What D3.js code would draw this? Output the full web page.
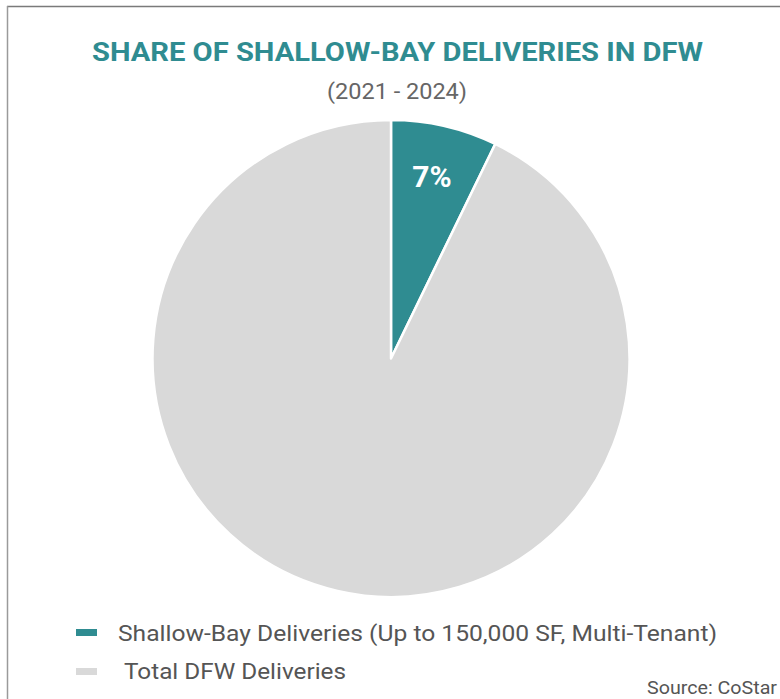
<!DOCTYPE html>
<html><head><meta charset="utf-8">
<script src="https://cdn.jsdelivr.net/npm/d3@7"></script>
<style>body{margin:0;background:#fff;}svg{display:block;font-family:Roboto,"Noto Sans",sans-serif;}</style>
</head><body>
<svg id="c" width="780" height="699"></svg>
<script>
const categories = ["Shallow-Bay Deliveries (Up to 150,000 SF, Multi-Tenant)", "Total DFW Deliveries"];
const legendLabels = ["Shallow-Bay Deliveries (Up to 150,000 SF, Multi-Tenant)", " Total DFW Deliveries"];
const values = [7.2, 92.8];
const sliceLabels = ["7%", ""];
const colors = ["#2F8C91", "#D9D9D9"];

const svg = d3.select("#c");
// frame
svg.append("line").attr("x1",7).attr("x2",780).attr("y1",6.5).attr("y2",6.5).attr("stroke","#7a7a7a").attr("stroke-width",1.5);
svg.append("line").attr("x1",7.5).attr("x2",7.5).attr("y1",6).attr("y2",699).attr("stroke","#9a9a9a").attr("stroke-width",1.5);

svg.append("text").attr("x",92).attr("y",61)
  .attr("fill","#2F8C91").attr("font-weight","bold").attr("font-size",25)
  .attr("textLength",611).attr("lengthAdjust","spacingAndGlyphs")
  .text("SHARE OF SHALLOW-BAY DELIVERIES IN DFW");
svg.append("text").attr("x",327).attr("y",99)
  .attr("fill","#666").attr("font-size",22)
  .attr("textLength",140).attr("lengthAdjust","spacingAndGlyphs").text("(2021 - 2024)");

const cx = 391, cy = 358.5, r = 238.5;
const pie = d3.pie().sort(null).value(d=>d)(values);
const arc = d3.arc().innerRadius(0).outerRadius(r);
const g = svg.append("g").attr("transform",`translate(${cx},${cy})`);
g.selectAll("path").data(pie).join("path").attr("d",arc)
  .attr("fill",(d,i)=>colors[i]).attr("stroke","#fff").attr("stroke-width",2.5).attr("stroke-linejoin","round");
const lab = d3.arc().innerRadius(r*0.785).outerRadius(r*0.785);
g.selectAll("text").data(pie).join("text")
  .attr("transform",d=>{const c=lab.centroid(d);return `translate(${c[0]-1},${c[1]})`;})
  .attr("text-anchor","middle").attr("dy","0.35em").attr("fill","#fff").attr("font-weight","bold").attr("font-size",30)
  .text((d,i)=>sliceLabels[i]);

const leg = svg.append("g");
const legY = [632.5, 671.5], legBase = [641, 679], legX = [118, 124], legW = [599, 222];
legendLabels.forEach((t,i)=>{
  leg.append("rect").attr("x",76).attr("y",legY[i]-3.5).attr("width",21).attr("height",7).attr("fill",colors[i]);
  leg.append("text").attr("x",legX[i]).attr("y",legBase[i]).attr("fill","#555").attr("font-size",22)
    .attr("textLength",legW[i]).attr("lengthAdjust","spacingAndGlyphs").text(t.trim());
});
svg.append("text").attr("x",647).attr("y",694).attr("fill","#555").attr("font-size",18)
  .attr("textLength",130).attr("lengthAdjust","spacingAndGlyphs").text("Source: CoStar");
</script>
</body></html>
